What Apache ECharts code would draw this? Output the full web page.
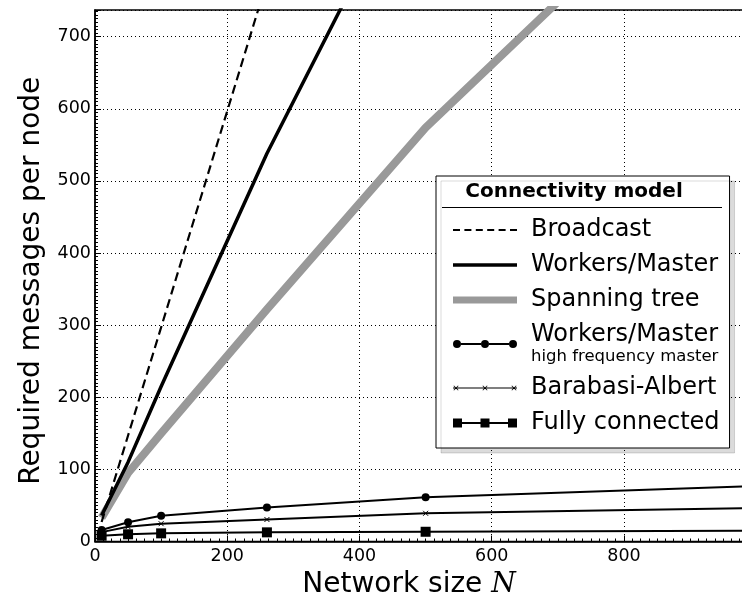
<!DOCTYPE html>
<html>
<head>
<meta charset="utf-8">
<script src="https://cdn.jsdelivr.net/npm/echarts@6/dist/echarts.min.js"></script>
<style>
  html, body { margin: 0; padding: 0; background: #fff; }
  #chart { width: 742px; height: 600px; }
</style>
</head>
<body>
<div id="chart"></div>
<script>
// network sizes N (x) and messages per node for each connectivity model
var sizes = [10, 50, 100, 260, 500, 1000];
var broadcast = [27, 147, 297, 777, 1497, 2997];
var workersMaster = [36, 110, 215, 538, 970, 1870];
var spanningTree = [33, 95, 150, 322, 574, 1010];
var workersMasterHF = [16, 26.6, 35.8, 47, 61.3, 77];
var barabasiAlbert = [13, 20.5, 24.7, 30.5, 39.1, 46.5];
var fullyConnected = [8, 10, 11.3, 12.7, 13.5, 14.8];

var xTicks = [0, 200, 400, 600, 800];
var yTicks = [0, 100, 200, 300, 400, 500, 600, 700];

var FONT = '"DejaVu Sans", sans-serif';

function pairs(vals) {
  return sizes.map(function (n, i) { return [n, vals[i]]; });
}

// legend sample icons (matplotlib style: three markers on a line)
var dashIcon = 'path://' + [0, 11.4, 22.8, 34.2, 45.6, 57].map(function (x) {
  return 'M' + x + ',0h7v2h-7z';
}).join('');
var solidIcon = 'path://M0,0h64v3.5h-64z';
var thickIcon = 'path://M0,0h64v7h-64z';
var circleIcon = 'path://' + [4, 32, 60].map(function (cx) {
  return 'M' + (cx - 4) + ',4a4,4 0 1,1 8,0a4,4 0 1,1 -8,0z';
}).join('') + 'M8,3h20v2h-20zM36,3h20v2h-20z';
var crossIcon = 'path://M0,2.5h64v1.2h-64z' + [3, 32, 61].map(function (cx) {
  var cy = 3.1;
  return 'M' + (cx - 2.5) + ',' + (cy - 2) + 'L' + (cx - 2) + ',' + (cy - 2.5) +
    'L' + (cx + 2.5) + ',' + (cy + 2) + 'L' + (cx + 2) + ',' + (cy + 2.5) + 'Z' +
    'M' + (cx + 2) + ',' + (cy - 2.5) + 'L' + (cx + 2.5) + ',' + (cy - 2) +
    'L' + (cx - 2) + ',' + (cy + 2.5) + 'L' + (cx - 2.5) + ',' + (cy + 2) + 'Z';
}).join('');
var squareIcon = 'path://' + [0, 27.5, 55].map(function (x) {
  return 'M' + x + ',0h9v9h-9z';
}).join('') + 'M9,3.5h18.5v2h-18.5zM36.5,3.5h18.5v2h-18.5z';

var HF_NAME = 'Workers/Master (high frequency master)';

var chart = echarts.init(document.getElementById('chart'), null, { renderer: 'canvas' });

var axisCommon = {
  type: 'value',
  axisLine: { show: true, lineStyle: { color: '#000', width: 1.5 } },
  axisTick: { show: true, inside: true, length: 6, lineStyle: { color: '#000' } },
  minorTick: { show: true, length: 3, lineStyle: { color: '#000' } },
  splitLine: { show: true, lineStyle: { color: '#000', width: 1, type: [1, 3] } },
  nameLocation: 'middle'
};

var option = {
  animation: false,
  backgroundColor: '#fff',
  textStyle: { fontFamily: FONT },
  grid: {
    left: 95, right: -3, top: 10, bottom: 58.5,
    show: true, borderColor: '#000', borderWidth: 1.5,
    containLabel: false, outerBoundsMode: 'none'
  },
  xAxis: Object.assign({}, axisCommon, {
    min: xTicks[0],
    max: 983,
    interval: xTicks[1] - xTicks[0],
    minorTick: Object.assign({}, axisCommon.minorTick, { splitNumber: 16 }),
    axisLabel: {
      color: '#000', fontSize: 17.5, fontFamily: FONT, margin: 6,
      showMaxLabel: false
    },
    name: 'Network size {i|N}',
    nameGap: 27,
    nameTextStyle: {
      color: '#000', fontSize: 28, fontFamily: FONT,
      padding: [0, 22, 0, 0],
      rich: { i: { fontFamily: '"DejaVu Serif", serif', fontStyle: 'italic', fontSize: 28, color: '#000' } }
    }
  }),
  yAxis: Object.assign({}, axisCommon, {
    min: yTicks[0],
    max: 737,
    interval: yTicks[1] - yTicks[0],
    minorTick: Object.assign({}, axisCommon.minorTick, { splitNumber: 20 }),
    axisLabel: {
      color: '#000', fontSize: 17.5, fontFamily: FONT, margin: 4,
      showMaxLabel: false
    },
    name: 'Required messages per node',
    nameGap: 49,
    nameTextStyle: { color: '#000', fontSize: 28, fontFamily: FONT, padding: [0, 10, 0, 0] }
  }),
  legend: {
    orient: 'vertical',
    left: 436,
    top: 176,
    padding: [41, 10, 12, 17],
    itemGap: 9,
    itemWidth: 64,
    itemHeight: 14,
    selectedMode: false,
    backgroundColor: '#fff',
    borderColor: '#000',
    borderWidth: 1,
    shadowColor: 'rgba(0,0,0,0.14)',
    shadowBlur: 0,
    shadowOffsetX: 5,
    shadowOffsetY: 5,
    itemStyle: { borderWidth: 0 },
    textStyle: {
      color: '#000', fontFamily: FONT, fontSize: 24, lineHeight: 26,
      padding: [0, 0, 0, 9],
      rich: {
        a: { color: '#000', fontFamily: FONT, fontSize: 24, lineHeight: 26 },
        b: { color: '#000', fontFamily: FONT, fontSize: 16.5, lineHeight: 18 }
      }
    },
    formatter: function (name) {
      if (name === HF_NAME) return '{a|Workers/Master}\n{b|high frequency master}';
      return name;
    },
    data: [
      { name: 'Broadcast', icon: dashIcon, itemStyle: { color: '#000', borderWidth: 0 } },
      { name: 'Workers/Master', icon: solidIcon, itemStyle: { color: '#000', borderWidth: 0 } },
      { name: 'Spanning tree', icon: thickIcon, itemStyle: { color: '#999', borderWidth: 0 } },
      { name: HF_NAME, icon: circleIcon, itemStyle: { color: '#000', borderWidth: 0 } },
      { name: 'Barabasi-Albert', icon: crossIcon, itemStyle: { color: '#000', borderWidth: 0 } },
      { name: 'Fully connected', icon: squareIcon, itemStyle: { color: '#000', borderWidth: 0 } }
    ]
  },
  graphic: [
    {
      type: 'text', x: 574, y: 192, z: 100,
      style: {
        text: 'Connectivity model', fill: '#000',
        font: 'bold 20px "DejaVu Sans", sans-serif',
        align: 'center', verticalAlign: 'middle'
      }
    },
    {
      type: 'line', z: 100,
      shape: { x1: 442, y1: 207.5, x2: 722, y2: 207.5 },
      style: { stroke: '#000', lineWidth: 1 }
    }
  ],
  series: [
    {
      name: 'Spanning tree', type: 'line', z: 1, symbol: 'none', clip: true,
      data: pairs(spanningTree),
      itemStyle: { color: '#999' },
      lineStyle: { color: '#999', width: 8, join: 'round' }
    },
    {
      name: 'Broadcast', type: 'line', z: 2, symbol: 'none', clip: true,
      data: pairs(broadcast),
      itemStyle: { color: '#000' },
      lineStyle: { color: '#000', width: 2.2, type: [9, 5] }
    },
    {
      name: 'Workers/Master', type: 'line', z: 3, symbol: 'none', clip: true,
      data: pairs(workersMaster),
      itemStyle: { color: '#000' },
      lineStyle: { color: '#000', width: 3.5, join: 'round' }
    },
    {
      name: HF_NAME, type: 'line', z: 4, clip: true,
      symbol: 'circle', symbolSize: 8,
      data: pairs(workersMasterHF),
      itemStyle: { color: '#000' },
      lineStyle: { color: '#000', width: 2 }
    },
    {
      name: 'Barabasi-Albert', type: 'line', z: 4, clip: true,
      symbol: 'path://M0,0L10,10M10,0L0,10', symbolSize: 5,
      data: pairs(barabasiAlbert),
      itemStyle: { color: '#000', borderColor: '#000', borderWidth: 1 },
      lineStyle: { color: '#000', width: 2 }
    },
    {
      name: 'Fully connected', type: 'line', z: 4, clip: true,
      symbol: 'rect', symbolSize: 10,
      data: pairs(fullyConnected),
      itemStyle: { color: '#000' },
      lineStyle: { color: '#000', width: 2 }
    }
  ]
};

chart.setOption(option);
</script>
</body>
</html>
